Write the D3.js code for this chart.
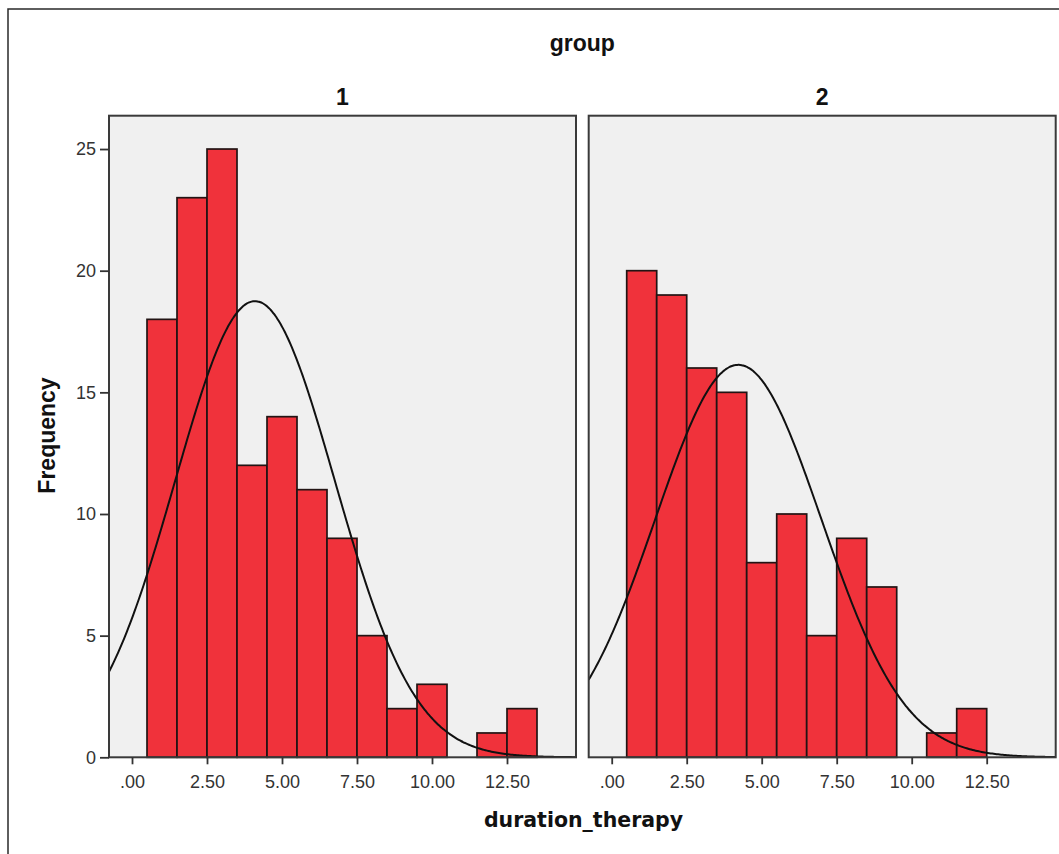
<!DOCTYPE html>
<html>
<head>
<meta charset="utf-8">
<script src="https://cdn.jsdelivr.net/npm/d3@7"></script>
<style>
html, body { margin: 0; padding: 0; background: #fff; }
svg { display: block; }
</style>
</head>
<body>
<svg id="chart" width="1059" height="854"></svg>
<script>
// ---- data ----
const groups = ["1", "2"];
const binCenters1 = [1, 2, 3, 4, 5, 6, 7, 8, 9, 10, 11, 12, 13];
const counts1 = [18, 23, 25, 12, 14, 11, 9, 5, 2, 3, 0, 1, 2];
const binCenters2 = [1, 2, 3, 4, 5, 6, 7, 8, 9, 10, 11, 12];
const counts2 = [20, 19, 16, 15, 8, 10, 5, 9, 7, 0, 1, 2];
const curveMeans = [4.10, 4.22];
const curveSDs = [2.66, 2.77];
const curveNs = [125, 112];
const binWidth = 1;
const xTickValues = [0, 2.5, 5, 7.5, 10, 12.5];
const xTickLabels = [".00", "2.50", "5.00", "7.50", "10.00", "12.50"];
const yTickValues = [0, 5, 10, 15, 20, 25];
const titleText = "group";
const xTitle = "duration_therapy";
const yTitle = "Frequency";

const binCentersAll = [binCenters1, binCenters2];
const countsAll = [counts1, counts2];

// ---- layout ----
const svg = d3.select("#chart");
const panelTop = 115.7, panelBottom = 757.3;
const panelX = [[109, 576], [588.7, 1055.7]];
const xDomain = [-0.767, 14.8];
const y = d3.scaleLinear().domain([0, 26.37]).range([panelBottom, panelTop]);

// outer frame
svg.append("path")
  .attr("d", d3.line()([[8, 854], [8, 9], [1059, 9]]))
  .attr("fill", "none").attr("stroke", "#2a2a2a").attr("stroke-width", 1.5);

// title
svg.append("text").attr("x", 582.3).attr("y", 51)
  .attr("text-anchor", "middle")
  .attr("font-family", "Liberation Sans, Arial, sans-serif")
  .attr("font-weight", "bold").attr("font-size", 23)
  .attr("fill", "#111").text(titleText);

const defs = svg.append("defs");

groups.forEach((g, i) => {
  const [x0, x1] = panelX[i];
  const x = d3.scaleLinear().domain(xDomain).range([x0, x1]);
  const panel = svg.append("g");

  defs.append("clipPath").attr("id", "clip" + i)
    .append("rect").attr("x", x0).attr("y", panelTop)
    .attr("width", x1 - x0).attr("height", panelBottom - panelTop);

  // background
  panel.append("rect").attr("x", x0).attr("y", panelTop)
    .attr("width", x1 - x0).attr("height", panelBottom - panelTop)
    .attr("fill", "#f0f0f0");

  // panel label
  svg.append("text").attr("x", (x0 + x1) / 2).attr("y", 105)
    .attr("text-anchor", "middle")
    .attr("font-family", "Liberation Sans, Arial, sans-serif")
    .attr("font-weight", "bold").attr("font-size", 23)
    .attr("fill", "#111").text(g);

  // bars
  const bins = binCentersAll[i].map((c, k) => ({ c, n: countsAll[i][k] })).filter(d => d.n > 0);
  panel.append("g").selectAll("rect").data(bins).join("rect")
    .attr("x", d => x(d.c - binWidth / 2))
    .attr("width", d => x(d.c + binWidth / 2) - x(d.c - binWidth / 2))
    .attr("y", d => y(d.n))
    .attr("height", d => y(0) - y(d.n))
    .attr("fill", "#f0323b")
    .attr("stroke", "#221414").attr("stroke-width", 1.7);

  // normal curve
  const mu = curveMeans[i], sd = curveSDs[i], N = curveNs[i];
  const pts = d3.range(xDomain[0], xDomain[1] + 0.01, 0.05).map(v =>
    [v, N * binWidth / (sd * Math.sqrt(2 * Math.PI)) * Math.exp(-0.5 * ((v - mu) / sd) ** 2)]);
  panel.append("path").datum(pts)
    .attr("clip-path", "url(#clip" + i + ")")
    .attr("d", d3.line().x(d => x(d[0])).y(d => y(d[1])).curve(d3.curveBasis))
    .attr("fill", "none").attr("stroke", "#111").attr("stroke-width", 2);

  // border
  panel.append("rect").attr("x", x0).attr("y", panelTop)
    .attr("width", x1 - x0).attr("height", panelBottom - panelTop)
    .attr("fill", "none").attr("stroke", "#3a3a3a").attr("stroke-width", 2);

  // x axis
  const xAxis = d3.axisBottom(x).tickValues(xTickValues)
    .tickFormat((d, k) => xTickLabels[k]).tickSize(7).tickSizeOuter(0).tickPadding(11);
  const ga = svg.append("g").attr("transform", `translate(0,${panelBottom})`).call(xAxis);
  ga.select(".domain").remove();
  ga.selectAll(".tick line").attr("stroke", "#333").attr("stroke-width", 1.8);
  ga.selectAll(".tick text").attr("font-family", "Liberation Sans, Arial, sans-serif")
    .attr("font-size", 18).attr("fill", "#333");

  if (i === 0) {
    const yAxis = d3.axisLeft(y).tickValues(yTickValues).tickSize(9).tickSizeOuter(0).tickPadding(4);
    const gy = svg.append("g").attr("transform", `translate(${x0},0)`).call(yAxis);
    gy.select(".domain").remove();
    gy.selectAll(".tick line").attr("stroke", "#333").attr("stroke-width", 1.8);
    gy.selectAll(".tick text").attr("font-family", "Liberation Sans, Arial, sans-serif")
      .attr("font-size", 18).attr("fill", "#333");
  }
});

// axis titles
svg.append("text").attr("transform", "translate(55,435.5) rotate(-90)")
  .attr("text-anchor", "middle")
  .attr("font-family", "Liberation Sans, Arial, sans-serif")
  .attr("font-weight", "bold").attr("font-size", 23)
  .attr("fill", "#111").text(yTitle);

svg.append("text").attr("x", 583.5).attr("y", 826.5)
  .attr("text-anchor", "middle")
  .attr("font-family", "DejaVu Sans, Verdana, sans-serif")
  .attr("font-weight", "bold").attr("font-size", 20.5)
  .attr("fill", "#111").text(xTitle);
</script>
</body>
</html>
